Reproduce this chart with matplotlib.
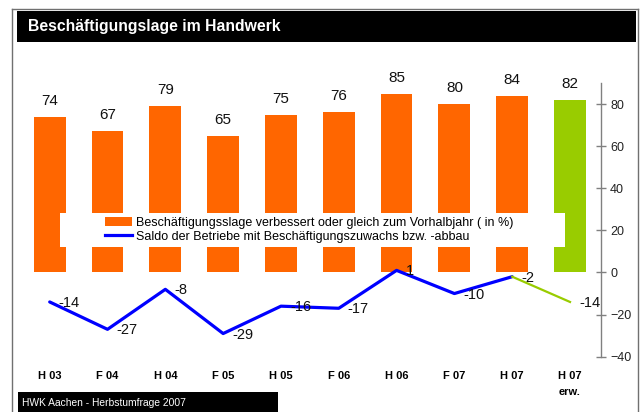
import matplotlib
matplotlib.use("Agg")
import matplotlib.pyplot as plt
from matplotlib.patches import Rectangle, Patch
from matplotlib.lines import Line2D

plt.rcParams['font.family'] = ['Liberation Sans', 'DejaVu Sans']

# data
categories = ['H 03', 'F 04', 'H 04', 'F 05', 'H 05', 'F 06', 'H 06', 'F 07', 'H 07', 'H 07\nerw.']
share_better = [74, 67, 79, 65, 75, 76, 85, 80, 84, 82]
saldo = [-14, -27, -8, -29, -16, -17, 1, -10, -2, -14]
bar_colors = ['#FF6600'] * 9 + ['#99CC00']
title = 'Beschäftigungslage im Handwerk'
legend_labels = ['Beschäftigungsslage verbessert oder gleich zum Vorhalbjahr ( in %)',
                 'Saldo der Betriebe mit Beschäftigungszuwachs bzw. -abbau']
source = 'HWK Aachen - Herbstumfrage 2007'
yticks = [-40, -20, 0, 20, 40, 60, 80]

W, H = 642, 412
fig = plt.figure(figsize=(W / 100, H / 100), dpi=100)


def fx(px):
    return px / W


def fy(py):
    return 1 - py / H


# plot area (pixel positions measured on the reference)
ax_l, ax_r, ax_t, ax_b = 20.8, 601, 83, 356.7
ax = fig.add_axes([fx(ax_l), fy(ax_b), fx(ax_r - ax_l), (ax_b - ax_t) / H])

x = list(range(len(categories)))
bars = ax.bar(x, share_better, width=0.55, color=bar_colors, zorder=2)
for xi, v in zip(x, share_better):
    ax.annotate(str(v), (xi, v), xytext=(0, 16), textcoords='offset pixels',
                ha='center', va='center', fontsize=11, color='#111111')

ax.plot(x[:9], saldo[:9], color='#0000FF', lw=2.3, zorder=4, solid_capstyle='round')
ax.plot(x[8:], saldo[8:], color='#99CC00', lw=1.6, zorder=4)
for xi, v in zip(x, saldo):
    ax.annotate(str(v), (xi, v), xytext=(9, -1), textcoords='offset pixels',
                ha='left', va='center', fontsize=10.5, color='#111111', zorder=5)

ax.set_xlim(-0.5, 9.536)
ax.set_ylim(-40, 90)
ax.set_xticks(x)
ax.set_xticklabels(categories, fontsize=8, fontweight='bold')
for t in ax.get_xticklabels():
    t.set_linespacing(1.8)
ax.tick_params(axis='x', length=0, pad=10)
ax.yaxis.tick_right()
ax.set_yticks(yticks)
ax.tick_params(axis='y', direction='inout', length=7, width=1, color='#808080',
               labelsize=9, labelcolor='#222222', pad=3)
for s in ['left', 'top', 'bottom']:
    ax.spines[s].set_visible(False)
ax.spines['right'].set_color('#808080')
ax.spines['right'].set_linewidth(1)

# white legend panel over the bars
ax.add_patch(Rectangle((fx(60), fy(246.7)), fx(505), 33.7 / H, transform=fig.transFigure,
                       facecolor='white', edgecolor='none', zorder=6, clip_on=False))
handles = [Patch(facecolor='#FF6600', edgecolor='none'),
           Line2D([0], [0], color='#0000FF', lw=2.3)]
leg = ax.legend(handles, legend_labels, loc='upper left',
                bbox_to_anchor=(fx(105), fy(216.5)), bbox_transform=fig.transFigure,
                frameon=False, fontsize=9, handlelength=2.16, handletextpad=0.3,
                labelspacing=0.18, borderpad=0, borderaxespad=0)
leg.set_zorder(7)

# outer frame
fig.add_artist(Line2D([fx(12), fx(12)], [fy(9), 0], color='#707070', lw=1))
fig.add_artist(Line2D([fx(12), fx(638)], [fy(9), fy(9)], color='#707070', lw=1))
fig.add_artist(Line2D([fx(638), fx(638)], [fy(9), 0], color='#707070', lw=1))

# title bar
fig.add_artist(Rectangle((fx(17), fy(42)), fx(619), 31 / H, transform=fig.transFigure,
                         facecolor='black', edgecolor='none'))
fig.text(fx(28), fy(26.5), title, color='white', fontsize=11.3, fontweight='bold',
         ha='left', va='center')

# source box
fig.add_artist(Rectangle((fx(18), 0), fx(260), 20 / H, transform=fig.transFigure,
                         facecolor='black', edgecolor='none'))
fig.text(fx(22), fy(403), source, color='white', fontsize=7.4, ha='left', va='center')

fig.savefig('out.png', dpi=100)
